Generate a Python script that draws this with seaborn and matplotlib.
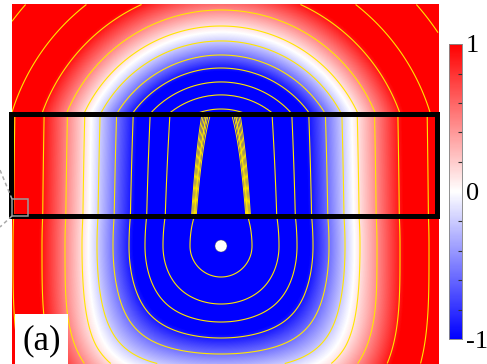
import numpy as np
import matplotlib
matplotlib.use("Agg")
import matplotlib.pyplot as plt
import seaborn as sns
from matplotlib.patches import Rectangle, Circle
from matplotlib.ticker import MultipleLocator
from matplotlib import font_manager as fm
from matplotlib.font_manager import FontProperties

# ---------------- data ----------------
grid_width = 427
grid_height = 360
# point source and the slab (black frame)
source_x = 209.5
source_y = 242.0
slab_top = 110.0
slab_bottom = 212.0
slab_h_top = 27.6
slab_h_bottom = 16.0
# region above the slab: concentric arcs around a virtual centre
virtual_y = 173.0
above_r = [0, 66, 68, 82, 95, 109, 122, 136, 151, 167, 173, 400]
above_d = [0, 27.6, 31, 58, 76, 92, 108, 124, 139, 156, 162, 390]
# region below the source
below_stretch = 1.0
below_power = 3.5
# colour mapping of the distance field
white_level = 133.0
blue_range = 45.0
red_range = 50.0
# contour levels (distance values)
contour_levels = [31, 58, 76, 92, 108, 124, 139, 156, 179, 208, 250]
band_levels = [29.5, 30.3, 31.1, 31.9, 32.7, 33.5]
# colour bar
cbar_ticks = [-1, 0, 1]
cbar_labels = ["-1", "0", "1"]
panel_label = "(a)"

# ---------------- build the field ----------------
xc = np.arange(grid_width) + 0.5
yc = np.arange(grid_height) + 0.5
X, Y = np.meshgrid(xc, yc)
dx = np.abs(X - source_x)
D = np.zeros_like(X)

m_above = Y < slab_top
r_up = np.hypot(dx, virtual_y - Y)
D[m_above] = np.interp(r_up[m_above], above_r, above_d)

m_slab = (Y >= slab_top) & (Y <= slab_bottom)
h_slab = slab_h_top + (slab_h_bottom - slab_h_top) * (Y - slab_top) / (slab_bottom - slab_top)
D[m_slab] = np.hypot(dx, h_slab)[m_slab]

m_mid = (Y > slab_bottom) & (Y < source_y)
h_mid = slab_h_bottom * (source_y - Y) / (source_y - slab_bottom)
D[m_mid] = np.hypot(dx, h_mid)[m_mid]

m_below = Y >= source_y
dy = below_stretch * np.clip(Y - source_y, 0, None)
d2 = np.hypot(dx, dy)
dp = (dx ** below_power + dy ** below_power) ** (1.0 / below_power)
w = np.clip((d2 - 40.0) / 120.0, 0, 1)
D[m_below] = (d2 + w * (dp - d2))[m_below]

V = np.where(D < white_level, (D - white_level) / blue_range, (D - white_level) / red_range)
V = np.clip(V, -1, 1)

# ---------------- fonts (Times-like serif) ----------------
serif_path = None
for f in fm.fontManager.ttflist:
    if f.name == "Liberation Serif" and "Regular" in f.fname:
        serif_path = f.fname
        break
if serif_path is None:
    for f in fm.fontManager.ttflist:
        if f.fname.rsplit("/", 1)[-1] in ("LiberationSerif-Regular.ttf", "DejaVuSerif.ttf"):
            serif_path = f.fname
            break

def serif(size):
    if serif_path:
        return FontProperties(fname=serif_path, size=size)
    return FontProperties(family="serif", size=size)

# ---------------- figure ----------------
fig = plt.figure(figsize=(4.87, 3.64), dpi=100)
ax = fig.add_axes([11.5 / 487, 0, 427 / 487, 360 / 364])
cax = fig.add_axes([449 / 487, 1 - 339 / 364, 13 / 487, 295 / 364])

sns.heatmap(V, ax=ax, cmap="bwr", vmin=-1, vmax=1, cbar_ax=cax,
            xticklabels=False, yticklabels=False, rasterized=True)

ax.contour(X, Y, D, levels=contour_levels, colors="#ffe600", linewidths=0.8)
D_slab = np.ma.masked_where(~m_slab, D)
ax.contour(X, Y, D_slab, levels=band_levels, colors="#ffe600", linewidths=0.7)

ax.set_xlim(0, grid_width)
ax.set_ylim(grid_height, 0)
ax.set_xticks([])
ax.set_yticks([])
for s in ax.spines.values():
    s.set_visible(False)

# slab frame
ax.add_patch(Rectangle((-1, slab_top), 426, slab_bottom - slab_top, fill=False,
                       lw=3.6, ec="black", joinstyle="miter", clip_on=False, zorder=5))
# source
ax.add_patch(Circle((source_x, source_y), 6, fc="white", ec="#555555", lw=0.3, zorder=6))
# small grey square and dashed zoom lines
ax.add_patch(Rectangle((0.5, 195), 16, 17, fill=False, ec="#9a9a9a", lw=1.1,
                       clip_on=False, zorder=6))
ax.plot([0.5, -11.5], [195, 166], ls=(0, (2.5, 2)), color="#aaaaaa", lw=1.1,
        clip_on=False, zorder=6)
ax.plot([0.5, -11.5], [212, 223], ls=(0, (2.5, 2)), color="#aaaaaa", lw=1.1,
        clip_on=False, zorder=6)
# panel label
ax.add_patch(Rectangle((3.5, 310), 53, 52, fc="white", ec="none", clip_on=False, zorder=7))
ax.text(30.5, 337, panel_label, fontproperties=serif(25), ha="center", va="center", zorder=8)

# colour bar styling
cax.set_yticks(cbar_ticks)
cax.set_yticklabels(cbar_labels)
for t in cax.get_yticklabels():
    t.set_fontproperties(serif(19))
cax.tick_params(which="major", length=0, pad=3)
cax.yaxis.set_minor_locator(MultipleLocator(0.2))
cax.tick_params(which="minor", direction="in", length=3, width=0.8, color="#333333")
for s in cax.spines.values():
    s.set_visible(True)
    s.set_linewidth(0.5)
    s.set_edgecolor("#888888")

fig.savefig("out.png", dpi=100)
